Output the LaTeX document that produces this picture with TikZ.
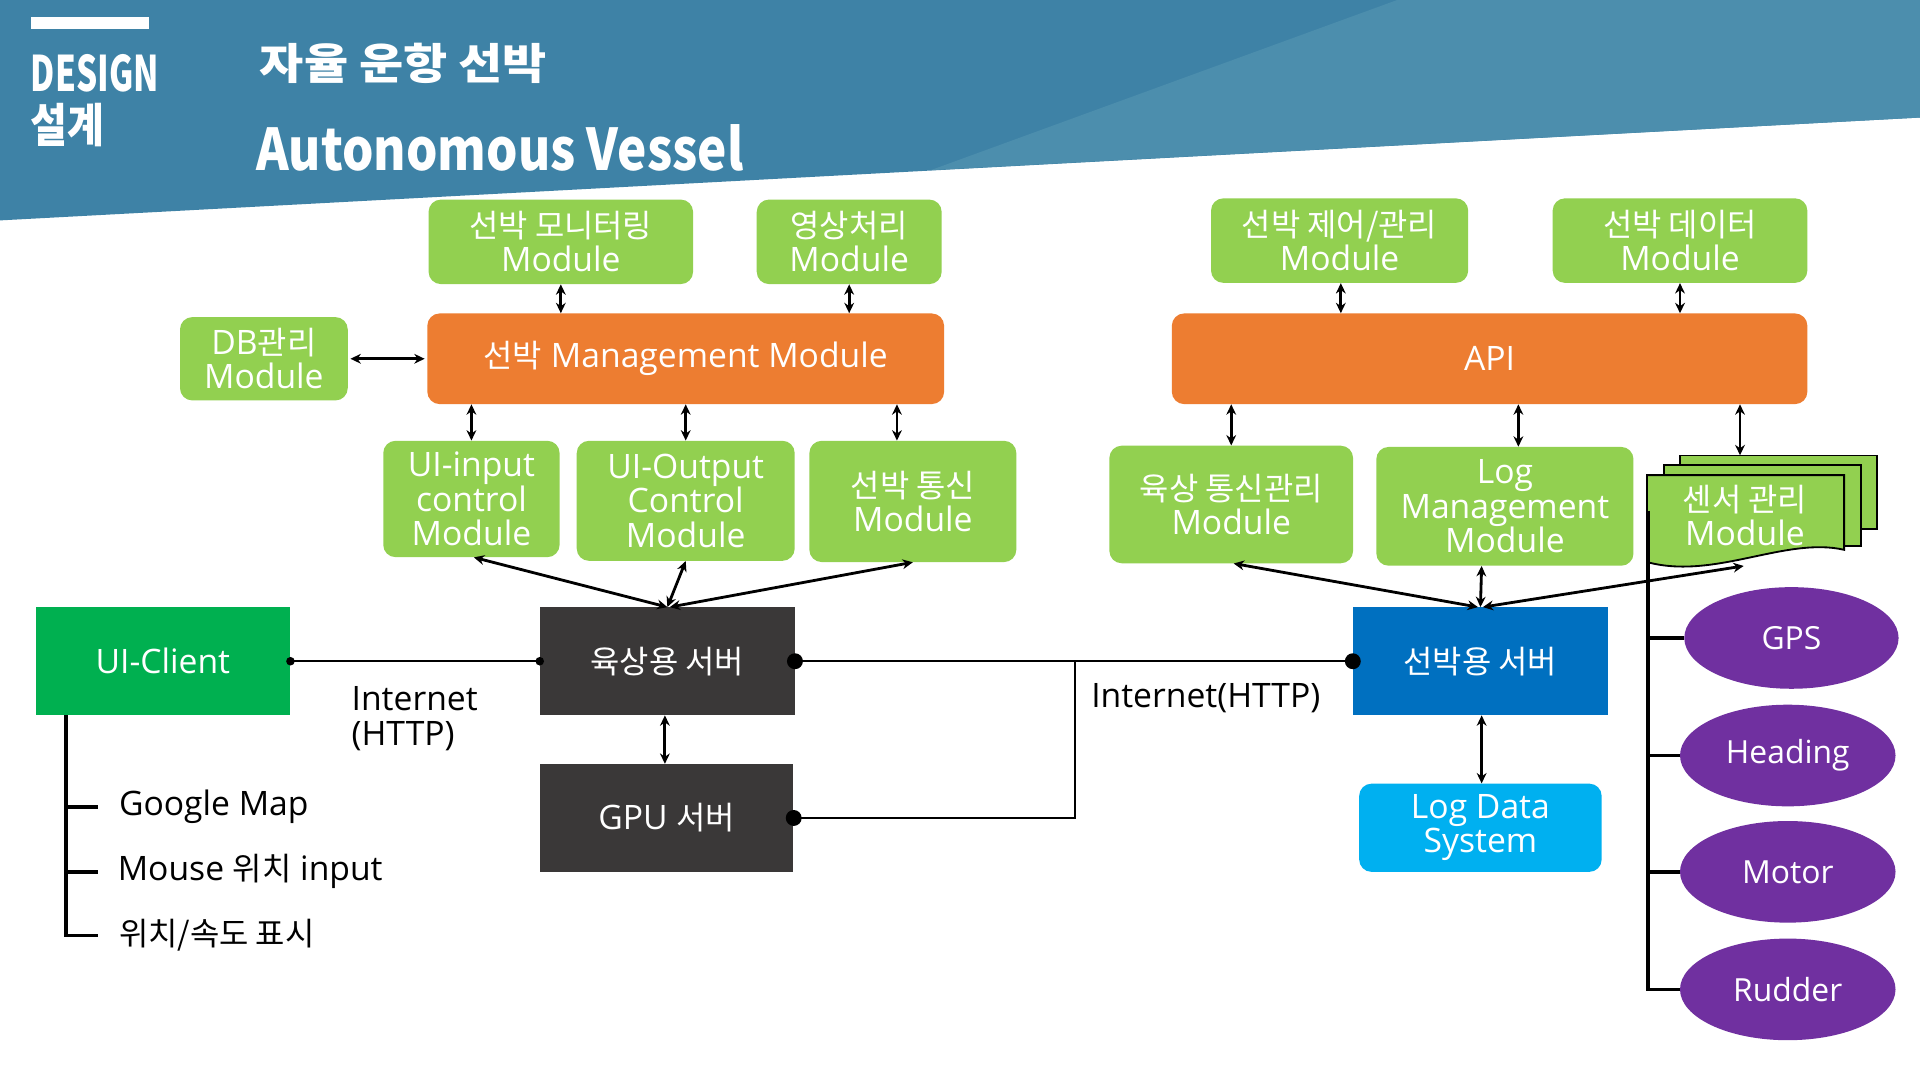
\documentclass[tikz,border=0pt]{standalone}
\usepackage{fontspec}
\setmainfont{Open Sans}
\newfontfamily\krfont{Noto Sans CJK KR}
\newfontfamily\ttlcond{Noto Sans CJK KR}[FakeStretch=0.68]
\newfontfamily\ttlmid{Noto Sans CJK KR}[FakeStretch=0.86]
\newfontfamily\ttlwide{Noto Sans CJK KR}[FakeStretch=1.12]
\usetikzlibrary{arrows.meta,shapes.geometric}
\definecolor{hdrA}{HTML}{3E82A6}
\definecolor{hdrB}{HTML}{4C8EAD}
\definecolor{grn}{HTML}{92D050}
\definecolor{org}{HTML}{ED7D31}
\definecolor{cligrn}{HTML}{00B050}
\definecolor{dark}{HTML}{3A3838}
\definecolor{shipblue}{HTML}{0070C0}
\definecolor{logblue}{HTML}{00B0F0}
\definecolor{purp}{HTML}{7030A0}
\newcommand\bxfnt{\fontsize{27.5}{28}\selectfont}
\newcommand\hk[1]{{\krfont\fontsize{26}{28}\selectfont #1}}
\begin{document}
\begin{tikzpicture}[x=1pt,y=-1pt,
  gbox/.style={fill=grn, rounded corners=10pt, text=white, align=center, inner sep=0pt, font=\bxfnt},
  obox/.style={fill=org, rounded corners=10pt, text=white, align=center, inner sep=0pt, font=\bxfnt},
  sbox/.style={text=white, align=center, inner sep=0pt, font=\bxfnt, minimum width=208pt, minimum height=88pt},
  sens/.style={ellipse, fill=purp, text=white, inner sep=0pt, font=\fontsize{26}{28}\selectfont, minimum width=176pt, minimum height=83pt},
  lbl/.style={text=black, inner sep=0pt, font=\bxfnt},
  arr/.style={{Stealth[length=8.5pt,width=8pt]}-{Stealth[length=8.5pt,width=8pt]}, line width=2.3pt},
  ln/.style={line width=2pt},
  tree/.style={line width=3pt}]
\useasboundingbox (0,0) rectangle (1568,882);
\fill[white] (0,0) rectangle (1568,882);
% header band
\fill[hdrA] (0,0) -- (1568,0) -- (1568,96) -- (0,180) -- cycle;
\fill[hdrB] (760,139) -- (1141,0) -- (1568,0) -- (1568,96) -- cycle;
\fill[white] (25,14) rectangle (122,24);
\node[anchor=base west, inner sep=0pt, text=white, font=\ttlcond\bfseries\fontsize{40}{40}\selectfont] (design) at (25,75) {DESIGN};
\node[anchor=base west, inner sep=0pt, text=white, font=\ttlmid\bfseries\fontsize{38}{38}\selectfont] (seolgye) at (25,116) {설계};
\node[anchor=base west, inner sep=0pt, text=white, font=\ttlwide\bfseries\fontsize{35}{35}\selectfont] (titleko) at (212,65) {자율 운항 선박};
\node[anchor=base west, inner sep=0pt, text=white, font=\ttlmid\bfseries\fontsize{47}{47}\selectfont] (titleen) at (209,139) {Autonomous Vessel};

% land-side modules
\node[gbox, minimum width=216pt, minimum height=69pt] (mon) at (458,197.5) {\hk{선박 모니터링}\\Module};
\node[gbox, minimum width=151pt, minimum height=69pt] (img) at (693.5,197.5) {\hk{영상처리}\\Module};
\node[gbox, minimum width=137pt, minimum height=68pt] (db) at (215.5,293) {DB\hk{관리}\\Module};
\node[obox, minimum width=422pt, minimum height=74pt] (mgmt) at (560,293) {\hk{선박} Management Module};
\node[gbox, minimum width=144pt, minimum height=95pt] (uiin) at (385,407.5) {UI-input\\control\\Module};
\node[gbox, minimum width=178pt, minimum height=98pt] (uiout) at (560,409) {UI-Output\\Control\\Module};
\node[gbox, minimum width=169pt, minimum height=99pt] (comm) at (745.5,409.5) {\hk{선박 통신}\\Module};

% ship-side modules
\node[gbox, minimum width=210pt, minimum height=69pt] (ctrl) at (1094,196.5) {\hk{선박 제어/관리}\\Module};
\node[gbox, minimum width=208pt, minimum height=69pt] (data) at (1372,196.5) {\hk{선박 데이터}\\Module};
\node[obox, minimum width=519pt, minimum height=74pt] (api) at (1216.5,293) {API};
\node[gbox, minimum width=199pt, minimum height=96pt] (lcomm) at (1005.5,412) {\hk{육상 통신관리}\\Module};
\node[gbox, minimum width=210pt, minimum height=97pt] (logm) at (1229,413.5) {Log\\Management\\Module};

% sensor module (stacked documents)
\filldraw[fill=grn, draw=black, line width=1.5pt] (1372,372) rectangle (1533,432);
\filldraw[fill=grn, draw=black, line width=1.5pt] (1359,380) rectangle (1520,446);
\filldraw[fill=grn, draw=black, line width=1.5pt] (1345,388) -- (1506,388) -- (1506,449) .. controls (1458,438) and (1400,474) .. (1345,459) -- cycle;
\node[inner sep=0pt, minimum width=188pt, minimum height=88pt] (sensor) at (1439,416) {};
\node[text=white, align=center, inner sep=0pt, font=\bxfnt] (sensortxt) at (1425,421) {\hk{센서 관리}\\Module};

% servers
\node[sbox, fill=cligrn] (client) at (133,540) {UI-Client};
\node[sbox, fill=dark] (land) at (545,540) {\hk{육상용 서버}};
\node[sbox, fill=dark, minimum width=207pt] (gpu) at (544.5,668) {GPU \hk{서버}};
\node[sbox, fill=shipblue] (ship) at (1209,540) {\hk{선박용 서버}};
\node[fill=logblue, rounded corners=10pt, text=white, align=center, inner sep=0pt, font=\bxfnt, minimum width=198pt, minimum height=72pt] (logdata) at (1209,676) {Log Data\\System};

% sensors
\node[sens, minimum width=175pt] (gps) at (1463,521) {GPS};
\node[sens] (heading) at (1460,617) {Heading};
\node[sens] (motor) at (1460,712) {Motor};
\node[sens] (rudder) at (1460,808) {Rudder};

% labels
\node[lbl, anchor=west, align=left] (inet1) at (287,587) {Internet\\(HTTP)};
\node[lbl, anchor=west] (inet2) at (891,570) {Internet(HTTP)};
\node[lbl, anchor=west] (gmap) at (97,659) {Google Map};
\node[lbl, anchor=west] (mouse) at (96,712) {Mouse \hk{위치} input};
\node[lbl, anchor=west] (pos) at (97,764) {\hk{위치/속도 표시}};

% arrows land side
\draw[arr] (mon.south) -- (mon.south |- mgmt.north);
\draw[arr] (img.south) -- (img.south |- mgmt.north);
\draw[arr] ([xshift=2pt]db.east) -- ([xshift=-2pt]mgmt.west);
\draw[arr] (uiin.north) -- (uiin.north |- mgmt.south);
\draw[arr] (uiout.north) -- (uiout.north |- mgmt.south);
\draw[arr] ([xshift=-13pt]comm.north) -- ([xshift=-13pt]comm.north |- mgmt.south);
\draw[arr] ([xshift=2pt]uiin.south) -- (land.north);
\draw[arr] (uiout.south) -- (land.north);
\draw[arr] (comm.south) -- ([xshift=2pt]land.north);
\draw[arr] ([xshift=-2pt]land.south) -- ([xshift=-1.5pt]gpu.north);

% arrows ship side
\draw[arr] ([xshift=1pt]ctrl.south) -- ([xshift=1pt]ctrl.south |- api.north);
\draw[arr] (data.south) -- (data.south |- api.north);
\draw[arr] (lcomm.north) -- (lcomm.north |- api.south);
\draw[arr] ([xshift=11pt]logm.north) -- ([xshift=11pt]logm.north |- api.south);
\draw[arr] ([xshift=-18pt]sensor.north) -- ([xshift=-18pt]sensor.north |- api.south);
\draw[arr] ([xshift=2pt]lcomm.south) -- ([xshift=-2pt]ship.north);
\draw[arr] ([xshift=-19pt]logm.south) -- (ship.north);
\draw[arr] ([xshift=-15pt,yshift=-2pt]sensor.south) -- ([xshift=2pt]ship.north);
\draw[arr] ([xshift=1pt]ship.south) -- ([xshift=1pt]logdata.north);

% network lines
\coordinate (jn) at (878,541);
\draw[ln] (client.east) -- (land.west);
\fill (client.east) circle (3.5pt);
\fill (land.west) circle (3.5pt);
\draw[ln] (land.east) -- (ship.west);
\draw[ln] (gpu.east) -| (jn);
\fill (land.east) circle (6.5pt);
\fill (ship.west) circle (6.5pt);
\fill (gpu.east) circle (6.5pt);

% client tree
\coordinate (ctree) at (54,584);
\draw[tree] (ctree) |- ([xshift=-17pt]pos.west);
\draw[tree] (ctree |- gmap.west) -- ([xshift=-17pt]gmap.west);
\draw[tree] (ctree |- mouse.west) -- ([xshift=-16pt]mouse.west);

% sensor tree
\coordinate (stree) at (1346,417);
\draw[tree] (stree) |- (rudder.west);
\draw[tree] (stree |- gps.west) -- (gps.west);
\draw[tree] (stree |- heading.west) -- (heading.west);
\draw[tree] (stree |- motor.west) -- (motor.west);
\end{tikzpicture}
\end{document}
